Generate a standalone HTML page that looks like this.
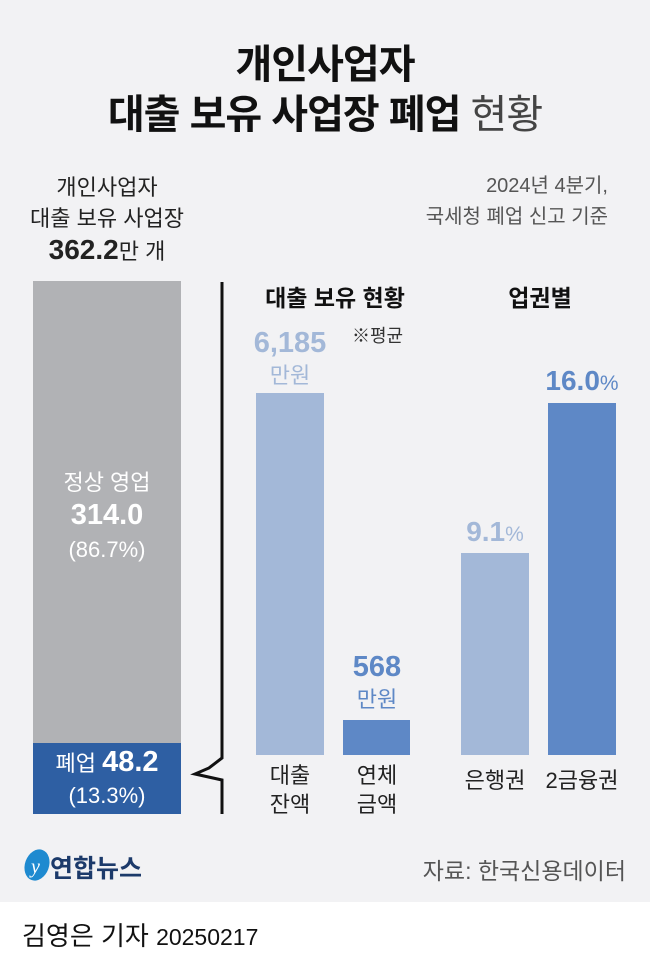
<!DOCTYPE html>
<html><head><meta charset="utf-8"><style>
body{margin:0;width:650px;height:966px;background:#fff;font-family:"Liberation Sans","Noto Sans CJK KR",sans-serif;position:relative;overflow:hidden}
.a{position:absolute}
.c{text-align:center}
#bg{left:0;top:0;width:650px;height:902px;background:#f2f2f4}
</style></head><body>
<div class="a" id="bg"></div>
<div class="a c" style="left:0;top:40px;width:650px;font-size:40px;font-weight:bold;color:#111;line-height:50px;letter-spacing:-1px">개인사업자<br>대출 보유 사업장 폐업 <span style="font-weight:normal;color:#444">현황</span></div>
<div class="a" style="right:42px;top:171px;text-align:right;font-size:20px;color:#555;line-height:31px">2024년 4분기,<br>국세청 폐업 신고 기준</div>
<div class="a c" style="left:10px;top:172px;width:194px;font-size:22px;color:#222;line-height:31px">개인사업자<br>대출 보유 사업장<br><b style="font-size:28px">362.2</b>만 개</div>
<div class="a" style="left:33px;top:281px;width:148px;height:462px;background:#b1b2b5"></div>
<div class="a c" style="left:33px;top:466px;width:148px;font-size:22px;color:#fff;line-height:33px">정상 영업<br><b style="font-size:29px">314.0</b><br>(86.7%)</div>
<div class="a" style="left:33px;top:743px;width:148px;height:71px;background:#2e5fa3"></div>
<div class="a c" style="left:30px;top:746px;width:154px;font-size:22px;color:#fff;line-height:32px">폐업 <b style="font-size:29px">48.2</b><br>(13.3%)</div>
<svg class="a" style="left:185px;top:280px" width="50" height="540"><polyline points="37,2 37,478 24,488 10,494 37,500 37,534" fill="none" stroke="#111" stroke-width="3"/></svg>
<div class="a c" style="left:235px;top:279px;width:200px;font-size:23px;font-weight:bold;color:#111">대출 보유 현황</div>
<div class="a" style="left:352px;top:322px;font-size:18px;color:#333">※평균</div>
<div class="a c" style="left:440px;top:279px;width:200px;font-size:23px;font-weight:bold;color:#111">업권별</div>
<div class="a c" style="left:240px;top:328px;width:100px;font-size:29px;font-weight:bold;color:#a3b8d8;line-height:31px">6,185<br><span style="font-size:22px;font-weight:normal">만원</span></div>
<div class="a" style="left:256px;top:393px;width:68px;height:362px;background:#a3b8d8"></div>
<div class="a c" style="left:327px;top:652px;width:100px;font-size:29px;font-weight:bold;color:#5e88c6;line-height:31px">568<br><span style="font-size:22px;font-weight:normal">만원</span></div>
<div class="a" style="left:343px;top:720px;width:67px;height:35px;background:#5e88c6"></div>
<div class="a c" style="left:445px;top:516px;width:100px;font-size:28px;font-weight:bold;color:#a3b8d8">9.1<span style="font-size:21px;font-weight:normal">%</span></div>
<div class="a" style="left:461px;top:553px;width:68px;height:202px;background:#a3b8d8"></div>
<div class="a c" style="left:532px;top:365px;width:100px;font-size:28px;font-weight:bold;color:#5e88c6">16.0<span style="font-size:21px;font-weight:normal">%</span></div>
<div class="a" style="left:548px;top:403px;width:68px;height:352px;background:#5e88c6"></div>
<div class="a c" style="left:240px;top:761px;width:100px;font-size:22px;color:#222;line-height:29px">대출<br>잔액</div>
<div class="a c" style="left:327px;top:761px;width:100px;font-size:22px;color:#222;line-height:29px">연체<br>금액</div>
<div class="a c" style="left:435px;top:763px;width:120px;font-size:22px;color:#222">은행권</div>
<div class="a c" style="left:522px;top:763px;width:120px;font-size:22px;color:#222">2금융권</div>
<svg class="a" style="left:22px;top:847px" width="30" height="36"><ellipse cx="15" cy="18" rx="12" ry="16" fill="#1e8ad0" transform="rotate(20 15 18)"/><text x="9" y="26" font-size="20" fill="#fff" font-style="italic" font-family="Liberation Serif">y</text></svg>
<div class="a" style="left:50px;top:849px;font-size:25px;font-weight:bold;color:#1c3a6a">연합뉴스</div>
<div class="a" style="right:24px;top:852px;font-size:23px;color:#555">자료: 한국신용데이터</div>
<div class="a" style="left:22px;top:916px;font-size:26px;color:#111">김영은 기자 <span style="font-size:23px">20250217</span></div>
</body></html>
